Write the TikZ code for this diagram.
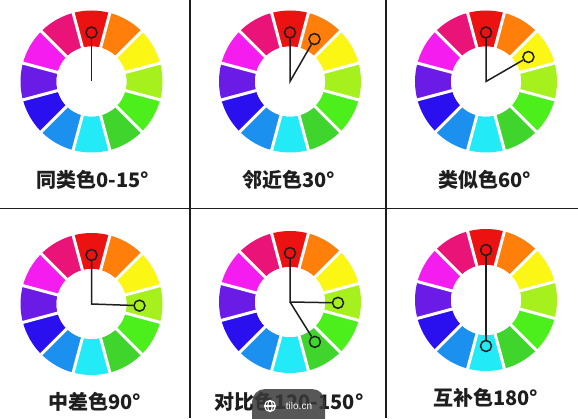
\documentclass[tikz,border=0pt]{standalone}
\usepackage{fontspec}
\newfontfamily\cjk{Noto Sans CJK SC}
\newfontfamily\wmfont{Liberation Sans}
\definecolor{cR}{HTML}{EC1212}
\definecolor{cO}{HTML}{FF7F0A}
\definecolor{cY}{HTML}{FCF614}
\definecolor{cYG}{HTML}{A6F01E}
\definecolor{cG}{HTML}{4CEE1C}
\definecolor{cDG}{HTML}{3FD52C}
\definecolor{cC}{HTML}{22EAF6}
\definecolor{cAz}{HTML}{1C90EE}
\definecolor{cB}{HTML}{2A10EE}
\definecolor{cV}{HTML}{6A1CE6}
\definecolor{cM}{HTML}{F51CF0}
\definecolor{cRo}{HTML}{EA1478}
\definecolor{ink}{HTML}{1E1E1E}
\definecolor{pillgray}{HTML}{3A3A3A}
\newcommand\drawcolorwheel[1]{%
  \begin{scope}[shift={(#1)}]
    \foreach \a/\c in {90/cR,60/cO,30/cY,0/cYG,-30/cG,-60/cDG,-90/cC,-120/cAz,-150/cB,180/cV,150/cM,120/cRo}{
      \fill[\c] (\a-15:35) arc[start angle=\a-15, end angle=\a+15, radius=35]
        -- (\a+15:71) arc[start angle=\a+15, end angle=\a-15, radius=71] -- cycle;
    }
    \foreach \a in {0,30,...,330}{\draw[white, line width=3pt] (0,0) -- (\a+15:74);}
    \fill[white] (0,0) circle (35);
  \end{scope}}
\tikzset{
  marker/.style={circle, draw=ink, line width=1.5pt, inner sep=0pt, minimum size=11pt},
  pointer/.style={draw=ink, line width=1.5pt},
  grid/.style={draw=ink, line width=1.8pt},
  lbl/.style={font=\cjk\bfseries\fontsize{20}{22}\selectfont, text=ink, inner sep=0pt}
}
\begin{document}
\begin{tikzpicture}[x=1pt,y=1pt]
\useasboundingbox[fill=white] (0,0) rectangle (578,418);
% centres
\coordinate (c1) at (91.5,336.5);
\coordinate (c2) at (290,336.5);
\coordinate (c3) at (486,336.5);
\coordinate (c4) at (91.5,114);
\coordinate (c5) at (290,116);
\coordinate (c6) at (486,118);
\drawcolorwheel{c1}
\drawcolorwheel{c2}
\drawcolorwheel{c3}
\drawcolorwheel{c4}
\drawcolorwheel{c5}
\drawcolorwheel{c6}
% grid
\coordinate (gl) at (0,209.5);
\coordinate (gr) at (578,209.5);
\coordinate (v1t) at (190,418);
\coordinate (v1b) at (190,0);
\coordinate (v2t) at (386,418);
\coordinate (v2b) at (386,0);
\draw[grid] (gl) -- (gr);
\draw[grid] (v1t) -- (v1b);
\draw[grid] (v2t) -- (v2b);
% panel 1
\node[marker] (m1a) at ([shift={(90:49)}]c1) {};
\draw[pointer] (c1) -- (m1a);
% panel 2
\node[marker] (m2a) at ([shift={(90:49)}]c2) {};
\node[marker] (m2b) at ([shift={(60:49)}]c2) {};
\draw[pointer] (m2a) -- (c2) -- (m2b);
% panel 3
\node[marker] (m3a) at ([shift={(90:49)}]c3) {};
\node[marker] (m3b) at ([shift={(30:49)}]c3) {};
\draw[pointer] (m3a) -- (c3) -- (m3b);
% panel 4
\node[marker] (m4a) at ([shift={(90:49)}]c4) {};
\node[marker] (m4b) at ([shift={(-2:48)}]c4) {};
\draw[pointer] (m4a) -- (c4) -- (m4b);
% panel 5
\node[marker] (m5a) at ([shift={(90:49)}]c5) {};
\node[marker] (m5b) at ([shift={(-1:48)}]c5) {};
\node[marker] (m5c) at ([shift={(-58:47)}]c5) {};
\draw[pointer] (m5a) -- (c5) -- (m5b);
\draw[pointer] (c5) -- (m5c);
% panel 6
\node[marker] (m6a) at ([shift={(90:50)}]c6) {};
\node[marker] (m6b) at ([shift={(-90:46)}]c6) {};
\draw[pointer] (m6a) -- (m6b);
% labels
\node[lbl] (l1) at (93,238) {同类色0-15°};
\node[lbl] (l2) at (289,238) {邻近色30°};
\node[lbl] (l3) at (485,238) {类似色60°};
\node[lbl] (l4) at (95,16.5) {中差色90°};
\node[lbl] (l5) at (289,16.5) {对比色120-150°};
\node[lbl] (l6) at (485.5,20) {互补色180°};
% watermark pill
\node[fill=pillgray, fill opacity=0.85, rounded corners=13pt, minimum width=73pt, minimum height=50pt, inner sep=0pt] (wm) at (288.5,4) {};
\node[text=white, font=\wmfont\fontsize{10}{12}\selectfont, inner sep=0pt] (wmt) at (299,12) {tilo.cn};
\coordinate (gc) at (270,12);
\draw[white, line width=1.1pt] (gc) circle (5.5);
\draw[white, line width=1.1pt] (gc) ellipse (2.3 and 5.5);
\draw[white, line width=1.1pt] ([xshift=-5.5]gc) -- ([xshift=5.5]gc);
\end{tikzpicture}
\end{document}
